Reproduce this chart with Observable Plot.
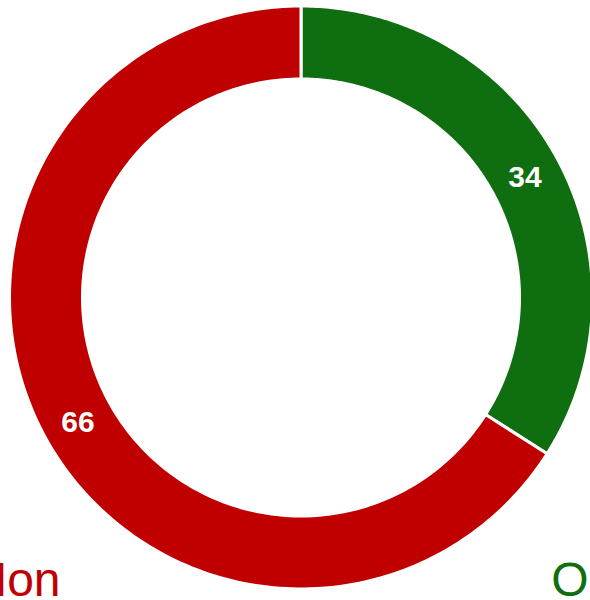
<!DOCTYPE html>
<html>
<head>
<meta charset="utf-8">
<script src="https://cdn.jsdelivr.net/npm/d3@7"></script>
<script src="https://cdn.jsdelivr.net/npm/@observablehq/plot@0.6"></script>
<style>
  html, body { margin: 0; padding: 0; background: #fff; overflow: hidden; }
  #chart { width: 590px; height: 600px; }
</style>
</head>
<body>
<div id="chart"></div>
<script>
// Data
const categories = ["Oui", "Non"];
const values = [34, 66];
const colors = ["#0f6e0f", "#c00000"];

// Geometry (relative radii)
const outerR = 1;
const innerR = 218.5 / 291.5;
const labelR = 255 / 291.5;

const pie = d3.pie().sort(null).value(d => d)(values);

const ring = [];
pie.forEach((p, i) => {
  const n = 200;
  for (let k = 0; k <= n; k++) {
    const a = p.startAngle + (p.endAngle - p.startAngle) * k / n;
    ring.push({
      cat: categories[i],
      x1: outerR * Math.sin(a), y1: outerR * Math.cos(a),
      x2: innerR * Math.sin(a), y2: innerR * Math.cos(a)
    });
  }
});

const labels = pie.map((p, i) => {
  const a = (p.startAngle + p.endAngle) / 2;
  return {cat: categories[i], value: values[i], x: labelR * Math.sin(a), y: labelR * Math.cos(a)};
});

const font = "Arial, 'Liberation Sans', sans-serif";

const chart = Plot.plot({
  width: 590,
  height: 600,
  margin: 0,
  style: {fontFamily: font, background: "white"},
  x: {domain: [-1, 1], range: [9.5, 592.5], axis: null},
  y: {domain: [-1, 1], range: [589, 6], axis: null},
  color: {domain: categories, range: colors},
  marks: [
    Plot.area(ring, {
      x1: "x1", y1: "y1", x2: "x2", y2: "y2",
      z: "cat", fill: "cat", stroke: "white", strokeWidth: 3, curve: "linear"
    }),
    Plot.text(labels, {
      x: "x", y: "y", text: d => String(d.value), dy: 2,
      fill: "white", fontSize: 30, fontWeight: "bold", lineAnchor: "middle", textAnchor: "middle"
    }),
    Plot.text([categories[1]], {
      frameAnchor: "bottom-left", text: d => d, dx: 16, dy: -4.5,
      fill: colors[1], fontSize: 48, lineAnchor: "bottom", textAnchor: "middle"
    }),
    Plot.text([categories[0]], {
      frameAnchor: "bottom-right", text: d => d, dx: -2, dy: -4.5,
      fill: colors[0], fontSize: 48, lineAnchor: "bottom", textAnchor: "middle"
    })
  ]
});
document.getElementById("chart").appendChild(chart);
</script>
</body>
</html>
